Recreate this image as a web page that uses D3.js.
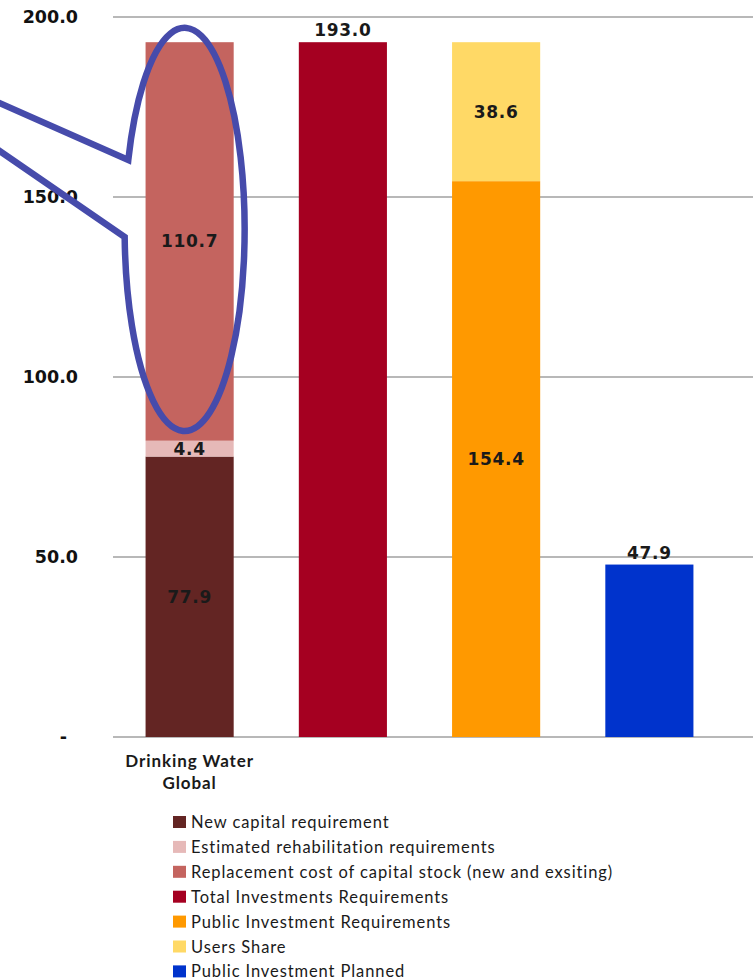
<!DOCTYPE html>
<html>
<head>
<meta charset="utf-8">
<script src="https://cdn.jsdelivr.net/npm/d3@7"></script>
<style>
  html, body { margin: 0; padding: 0; background: #fff; }
  svg { display: block; }
</style>
</head>
<body>
<div id="chart"></div>
<script>
// ---------------- DATA ----------------
const categoryLabel = ["Drinking Water", "Global"];
const barColumns = ["Requirements", "Total", "Public / Users", "Planned"];
const seriesNames = [
  "New capital requirement",
  "Estimated rehabilitation requirements",
  "Replacement cost of capital stock (new and exsiting)",
  "Total Investments Requirements",
  "Public Investment Requirements",
  "Users Share",
  "Public Investment Planned"
];
const seriesValues = [77.9, 4.4, 110.7, 193.0, 154.4, 38.6, 47.9];
const seriesColumn = [0, 0, 0, 1, 2, 2, 3];
const seriesLabelPos = ["in", "in", "in", "out", "in", "in", "out"];
const seriesColors = ["#632523", "#E6B9B8", "#C4645F", "#A50021", "#FF9900", "#FFD966", "#0033CC"];
const yTicks = [0, 50, 100, 150, 200];
const yTickLabels = ["-", "50.0", "100.0", "150.0", "200.0"];
// callout ellipse extent (value units) around the replacement-cost segment
const calloutRange = [85, 197];

// ---------------- LAYOUT ----------------
const W = 753, H = 980;
const svg = d3.select("#chart").append("svg").attr("width", W).attr("height", H);

const plotLeft = 113, plotRight = 753, plotTop = 17, plotBottom = 737;

const y = d3.scaleLinear().domain([0, 200]).range([plotBottom, plotTop]);
const x = d3.scaleBand().domain(barColumns).range([plotLeft, 726])
  .paddingInner(0.425).paddingOuter(0.2125);

// gridlines
svg.append("g").selectAll("line").data(yTicks).join("line")
  .attr("x1", plotLeft).attr("x2", plotRight)
  .attr("y1", d => y(d)).attr("y2", d => y(d))
  .attr("stroke", "#A0A0A0").attr("stroke-width", 1.5);

// y tick labels
svg.append("g").selectAll("text").data(yTicks).join("text")
  .attr("x", (d, i) => d === 0 ? 67 : 78)
  .attr("y", d => y(d) + 6)
  .attr("text-anchor", "end")
  .attr("font-family", "DejaVu Sans")
  .attr("font-weight", "bold")
  .attr("font-size", 17.5)
  .attr("fill", "#111")
  .text((d, i) => yTickLabels[i]);

// stacked bars
const stackBase = {};
const segs = seriesValues.map((v, i) => {
  const col = barColumns[seriesColumn[i]];
  const b = stackBase[col] || 0;
  stackBase[col] = b + v;
  return { i, col, v, y0: b, y1: b + v };
});

svg.append("g").selectAll("rect").data(segs).join("rect")
  .attr("x", d => x(d.col))
  .attr("width", x.bandwidth())
  .attr("y", d => y(d.y1))
  .attr("height", d => y(d.y0) - y(d.y1))
  .attr("fill", d => seriesColors[d.i]);

// value labels
svg.append("g").selectAll("text").data(segs).join("text")
  .attr("x", d => x(d.col) + x.bandwidth() / 2)
  .attr("y", d => seriesLabelPos[d.i] === "in" ? (y(d.y0) + y(d.y1)) / 2 + 6 : y(d.y1) - 6)
  .attr("text-anchor", "middle")
  .attr("font-family", "DejaVu Sans")
  .attr("font-weight", "bold")
  .attr("font-size", 17)
  .attr("letter-spacing", 0.7)
  .attr("fill", "#1a1a1a")
  .text(d => d.v.toFixed(1));

// category label
const cx0 = x(barColumns[0]) + x.bandwidth() / 2;
svg.append("g").selectAll("text").data(categoryLabel).join("text")
  .attr("x", cx0)
  .attr("y", (d, i) => 767 + i * 22)
  .attr("text-anchor", "middle")
  .attr("font-family", "Lato")
  .attr("font-weight", "bold")
  .attr("font-size", 17)
  .attr("letter-spacing", 0.9)
  .attr("fill", "#1a1a1a")
  .text(d => d);

// legend
const lg = svg.append("g").attr("transform", "translate(173,816)");
const items = lg.selectAll("g").data(seriesNames).join("g")
  .attr("transform", (d, i) => `translate(0,${i * 24.9})`);
items.append("rect").attr("width", 13).attr("height", 12)
  .attr("fill", (d, i) => seriesColors[i]);
items.append("text").attr("x", 18).attr("y", 12)
  .attr("font-family", "Lato").attr("font-size", 16.5).attr("letter-spacing", 0.9)
  .attr("fill", "#1a1a1a")
  .text(d => d);

// callout (annotation around the replacement-cost segment)
const ecx = cx0 - 5;
const eTop = y(calloutRange[1]), eBot = y(calloutRange[0]);
const ecy = (eTop + eBot) / 2, ery = (eBot - eTop) / 2, erx = 60;
const ptAt = yy => [ecx - erx * Math.sqrt(1 - Math.pow((yy - ecy) / ery, 2)), yy];
const p1 = ptAt(160), p2 = ptAt(237);
const tip = [-195, 17];
const path = `M${tip[0]},${tip[1]} L${p1[0]},${p1[1]} A${erx},${ery} 0 1 1 ${p2[0]},${p2[1]} L${tip[0]},${tip[1]}`;
svg.append("path").attr("d", path)
  .attr("fill", "none").attr("stroke", "#464BAB").attr("stroke-width", 6.5)
  .attr("stroke-linejoin", "miter");
</script>
</body>
</html>
